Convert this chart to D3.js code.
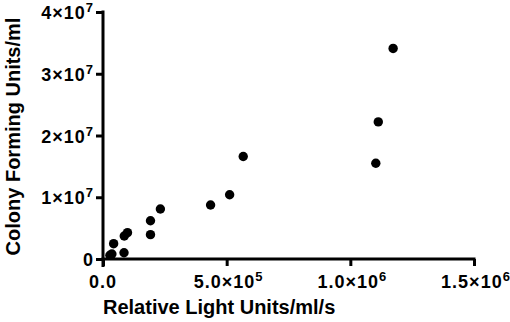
<!DOCTYPE html>
<html>
<head>
<meta charset="utf-8">
<script src="https://cdn.jsdelivr.net/npm/d3@7"></script>
<style>
  body { margin: 0; background: #fff; }
</style>
</head>
<body>
<script>
  // chart size
  const width = 510;
  const height = 322;
  const margin = {top: 12, right: 36, bottom: 63, left: 103};
  const font = '"Liberation Sans", Arial, Helvetica, sans-serif';

  // data (RLU/ml/s vs CFU/ml)
  const rlu = [1173000, 1113000, 1103000, 567000, 512000, 435000, 232000, 192000, 192000,
               99000, 86000, 43000, 36000, 28000, 85000];
  const cfu = [34100000, 22200000, 15500000, 16600000, 10400000, 8750000, 8100000, 6200000, 3940000,
               4260000, 3720000, 2480000, 810000, 600000, 1020000];

  // tick labels: [mantissa, exponent]
  const xTicks = [0, 500000, 1000000, 1500000];
  const xTickLabels = [["0.0", ""], ["5.0×10", "5"], ["1.0×10", "6"], ["1.5×10", "6"]];
  const yTicks = [0, 10000000, 20000000, 30000000, 40000000];
  const yTickLabels = [["0", ""], ["1×10", "7"], ["2×10", "7"], ["3×10", "7"], ["4×10", "7"]];

  const x = d3.scaleLinear()
    .domain([0, 1500000])
    .range([margin.left, width - margin.right]);

  const y = d3.scaleLinear()
    .domain([0, 40000000])
    .range([height - margin.bottom, margin.top]);

  const svg = d3.select('body').append('svg')
    .attr('width', width).attr('height', height)
    .attr('font-family', font)
    .attr('font-weight', 'bold');

  const xAxis = g => g
    .attr("transform", `translate(0,${height - margin.bottom})`)
    .call(d3.axisBottom(x).tickValues(xTicks).tickSize(7).tickSizeOuter(0).tickFormat(""))
    .call(g => g.selectAll(".domain, line").attr("stroke", "#000").attr("stroke-width", 3))
    .call(g => g.select(".domain").attr("d", `M${margin.left - 1.5},0H${x(1500000) + 1.5}`));

  const yAxis = g => g
    .attr("transform", `translate(${margin.left},0)`)
    .call(d3.axisLeft(y).tickValues(yTicks).tickSize(7).tickSizeOuter(0).tickFormat(""))
    .call(g => g.selectAll(".domain, line").attr("stroke", "#000").attr("stroke-width", 3))
    .call(g => g.select(".domain").attr("d", `M0,${y(40000000) - 1.5}V${height - margin.bottom + 8}`));

  svg.append('g').call(xAxis);
  svg.append('g').call(yAxis);

  // x tick labels with superscript
  const xl = svg.append('g').selectAll('text')
    .data(xTicks)
    .join('text')
    .attr('x', (d, i) => x(d) + (i === 0 ? 0 : 2))
    .attr('y', height - margin.bottom + 29)
    .attr('text-anchor', 'middle')
    .attr('letter-spacing', 1)
    .attr('font-size', 18);
  xl.append('tspan').text((d, i) => xTickLabels[i][0]);
  xl.append('tspan').attr('dy', -7).attr('font-size', 13).text((d, i) => xTickLabels[i][1]);

  // y tick labels
  const yl = svg.append('g').selectAll('text')
    .data(yTicks)
    .join('text')
    .attr('x', margin.left - 9)
    .attr('y', d => y(d) + 7)
    .attr('text-anchor', 'end')
    .attr('letter-spacing', 1)
    .attr('font-size', 18);
  yl.append('tspan').text((d, i) => yTickLabels[i][0]);
  yl.append('tspan').attr('dy', -7).attr('font-size', 13).text((d, i) => yTickLabels[i][1]);

  // axis titles
  svg.append('text')
    .attr('x', margin.left)
    .attr('y', 314)
    .attr('font-size', 20)
    .text('Relative Light Units/ml/s');

  svg.append('text')
    .attr('transform', `translate(20,${(y(0) + y(40000000)) / 2 + 1}) rotate(-90)`)
    .attr('text-anchor', 'middle')
    .attr('font-size', 20)
    .text('Colony Forming Units/ml');

  // points
  svg.append('g').selectAll('circle')
    .data(rlu)
    .join('circle')
    .attr('cx', d => x(d))
    .attr('cy', (d, i) => y(cfu[i]))
    .attr('r', 4.7)
    .attr('fill', '#000');
</script>
</body>
</html>
